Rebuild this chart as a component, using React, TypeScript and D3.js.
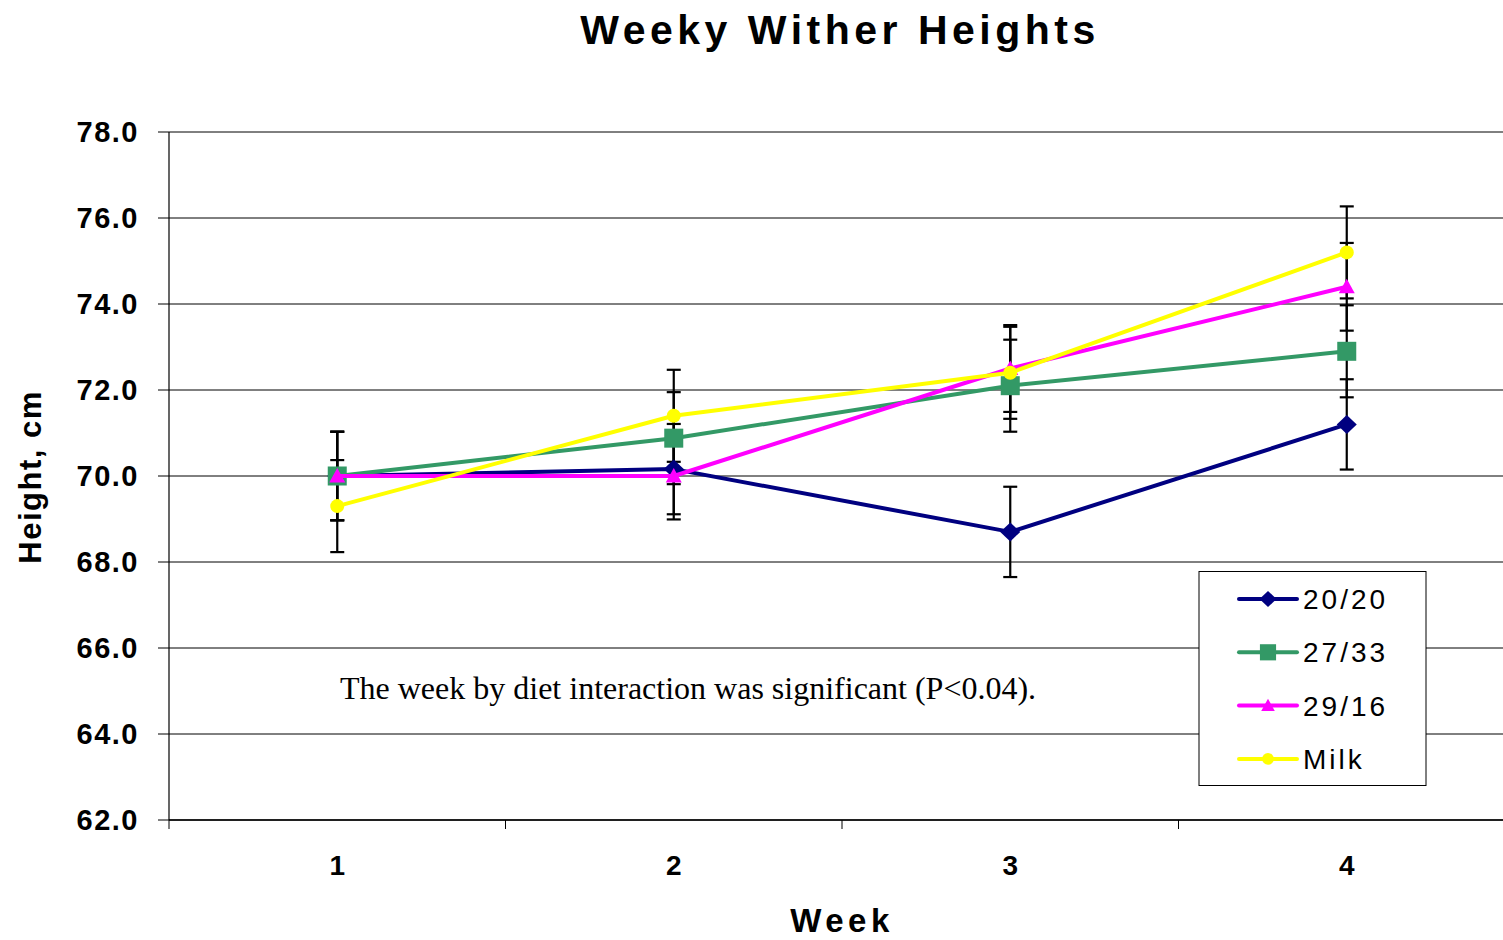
import React from "react";
import * as d3 from "d3";

// Weekly wither height means (cm) per diet, with standard errors
const weeks = [1, 2, 3, 4];
const seriesNames = ["20/20", "27/33", "29/16", "Milk"];
const heights2020 = [70.0, 70.16, 68.7, 71.2];
const heights2733 = [70.0, 70.88, 72.1, 72.9];
const heights2916 = [70.0, 70.0, 72.5, 74.4];
const heightsMilk = [69.3, 71.4, 72.4, 75.2];
const se2020 = [1.03, 1.05, 1.05, 1.05];
const se2733 = [1.03, 1.07, 1.07, 1.07];
const se2916 = [1.03, 1.01, 1.01, 1.02];
const seMilk = [1.07, 1.07, 1.07, 1.07];
const yTicks = [62, 64, 66, 68, 70, 72, 74, 76, 78];

const colors = ["#000080", "#339966", "#FF00FF", "#FFFF00"];
const markerKinds = ["diamond", "square", "triangle", "circle"];

const W = 1503;
const H = 940;
const left = 169;
const right = 1515;
const top = 132;
const bottom = 820;

const sans = "'Liberation Sans', Arial, sans-serif";
const serif = "'Liberation Serif', 'Times New Roman', serif";

function Marker({ kind, x, y, color, scale = 1 }: { kind: string; x: number; y: number; color: string; scale?: number }) {
  if (kind === "diamond") {
    const r = 10 * scale;
    const ry = 9.5 * scale;
    return <path d={`M${x},${y - ry}L${x + r},${y}L${x},${y + ry}L${x - r},${y}Z`} fill={color} />;
  }
  if (kind === "square") {
    const s = 19 * scale;
    return <rect x={x - s / 2} y={y - s / 2} width={s} height={s} fill={color} />;
  }
  if (kind === "triangle") {
    const s = 8 * scale;
    return <path d={`M${x},${y - s}L${x + s},${y + s * 0.8}L${x - s},${y + s * 0.8}Z`} fill={color} />;
  }
  return <circle cx={x} cy={y} r={7 * scale} fill={color} />;
}

export default function App() {
  const values = [heights2020, heights2733, heights2916, heightsMilk];
  const errors = [se2020, se2733, se2916, seMilk];

  const x = d3.scaleBand<number>().domain(weeks).range([left, right]).paddingInner(0).paddingOuter(0);
  const y = d3.scaleLinear().domain([62, 78]).range([bottom, top]);
  const cx = (w: number) => (x(w) as number) + x.bandwidth() / 2;

  const line = d3
    .line<number>()
    .x((_, i) => cx(weeks[i]))
    .y((v) => y(v));

  const capHalf = 7;
  const boundaries = d3.range(weeks.length + 1).map((i) => left + i * x.bandwidth());

  return (
    <svg
      width={W}
      height={H}
      viewBox={`0 0 ${W} ${H}`}
      style={{ position: "absolute", left: 0, top: 0, display: "block", background: "#fff" }}
    >
      <rect x={0} y={0} width={W} height={H} fill="#fff" />

      {/* Title */}
      <text
        x={840}
        y={44}
        textAnchor="middle"
        fontFamily={sans}
        fontWeight="bold"
        fontSize={41}
        letterSpacing={4.5}
      >
        Weeky Wither Heights
      </text>

      {/* Horizontal gridlines */}
      {yTicks.map((t) => (
        <line key={`g${t}`} x1={left} x2={W} y1={y(t)} y2={y(t)} stroke="#000" strokeWidth={1} />
      ))}

      {/* Y axis */}
      <line x1={left} x2={left} y1={top} y2={bottom} stroke="#000" strokeWidth={1.2} />
      {yTicks.map((t) => (
        <g key={`yt${t}`}>
          <line x1={left - 11} x2={left} y1={y(t)} y2={y(t)} stroke="#000" strokeWidth={1} />
          <text
            x={139}
            y={y(t)}
            dy="0.36em"
            textAnchor="end"
            fontFamily={sans}
            fontWeight="bold"
            fontSize={29}
            letterSpacing={1.5}
          >
            {t.toFixed(1)}
          </text>
        </g>
      ))}

      {/* X axis */}
      <line x1={left} x2={W} y1={bottom} y2={bottom} stroke="#000" strokeWidth={1.5} />
      {boundaries.map((b, i) => (
        <line key={`xt${i}`} x1={b} x2={b} y1={bottom} y2={bottom + 9} stroke="#000" strokeWidth={1} />
      ))}
      {weeks.map((w) => (
        <text
          key={`xl${w}`}
          x={cx(w)}
          y={875}
          textAnchor="middle"
          fontFamily={sans}
          fontWeight="bold"
          fontSize={28}
        >
          {w}
        </text>
      ))}

      {/* Axis titles */}
      <text
        x={842}
        y={932}
        textAnchor="middle"
        fontFamily={sans}
        fontWeight="bold"
        fontSize={33}
        letterSpacing={4.5}
      >
        Week
      </text>
      <text
        transform={`translate(41,${477}) rotate(-90)`}
        textAnchor="middle"
        fontFamily={sans}
        fontWeight="bold"
        fontSize={31}
        letterSpacing={1.5}
      >
        Height, cm
      </text>

      {/* Error bars (beneath all series) */}
      {values.map((vals, si) =>
        vals.map((v, i) => {
          const xc = cx(weeks[i]);
          const hi = y(v + errors[si][i]);
          const lo = y(v - errors[si][i]);
          return (
            <g key={`e${si}-${i}`} stroke="#000" strokeWidth={2.2}>
              <line x1={xc} x2={xc} y1={hi} y2={lo} />
              <line x1={xc - capHalf} x2={xc + capHalf} y1={hi} y2={hi} />
              <line x1={xc - capHalf} x2={xc + capHalf} y1={lo} y2={lo} />
            </g>
          );
        })
      )}

      {/* Series lines and markers */}
      {values.map((vals, si) => (
        <g key={`s${si}`}>
          <path d={line(vals) || ""} fill="none" stroke={colors[si]} strokeWidth={4} strokeLinejoin="round" />
          {vals.map((v, i) => (
            <Marker key={i} kind={markerKinds[si]} x={cx(weeks[i])} y={y(v)} color={colors[si]} />
          ))}
        </g>
      ))}

      {/* Annotation */}
      <text x={340} y={699} fontFamily={serif} fontSize={32}>
        The week by diet interaction was significant (P&lt;0.04).
      </text>

      {/* Legend */}
      <rect x={1199} y={571.5} width={227} height={214} fill="#fff" stroke="#000" strokeWidth={1} />
      {seriesNames.map((name, i) => {
        const ly = 599 + i * 53.3;
        return (
          <g key={`l${i}`}>
            <line x1={1239} x2={1297} y1={ly} y2={ly} stroke={colors[i]} strokeWidth={4} strokeLinecap="round" />
            <Marker kind={markerKinds[i]} x={1268} y={ly} color={colors[i]} scale={0.85} />
            <text x={1303} y={ly} dy="0.36em" fontFamily={sans} fontSize={28} letterSpacing={3}>
              {name}
            </text>
          </g>
        );
      })}
    </svg>
  );
}
